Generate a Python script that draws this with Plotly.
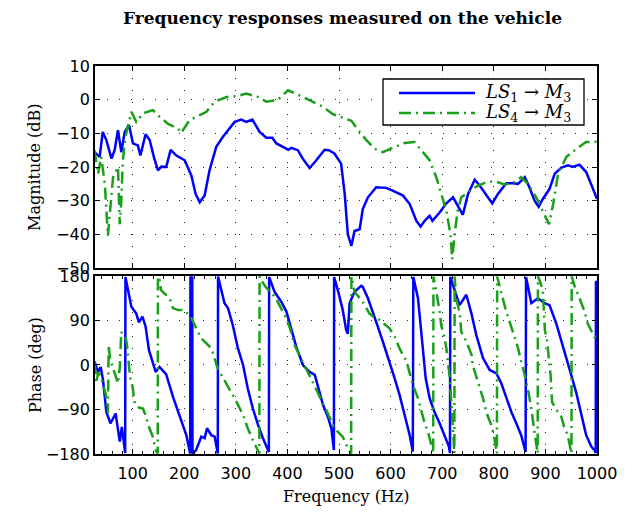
import plotly.graph_objects as go

# ---------------- magnitude, LS1 -> M3 ----------------
f_mag_ls1 = [26, 36, 42, 49, 59, 65, 71.5, 78, 84.5, 93, 100.6, 110, 115, 125, 133, 141,
             149, 155.6, 165, 173.6, 184.7, 200.8, 213.7, 222, 230, 239.5, 249, 262, 275,
             284.7, 297.7, 310.6, 320, 332, 346, 359, 370.7, 378.5, 391, 402, 407.5, 420,
             430, 443, 456, 472, 480, 491, 504, 511, 517, 524, 530, 540, 546, 556, 572,
             591.5, 604, 624, 637, 650, 658, 666, 675.6, 681, 695, 708, 721, 730.5, 740,
             750, 763, 772.5, 785.5, 797, 808, 824, 837, 847, 860, 869, 879, 887, 895, 908,
             918, 931, 944, 953, 966, 979, 987, 1000]
mag_ls1 = [-15.6, -17, -9.6, -12, -17.5, -15, -9.1, -15.6, -9.6, -7.6, -13, -13.6, -16.6,
           -10.3, -12, -17, -21, -19.9, -20, -14.9, -16.6, -18, -22.5, -28, -30.5, -28.5,
           -21, -14, -11, -9, -6.6, -5.9, -6.6, -5.9, -9.6, -11.3, -11.3, -13, -13.9, -14.9,
           -14.3, -15, -17.6, -20.3, -18, -14.9, -15, -16, -19, -28, -40, -43.4, -39, -38.5,
           -32.5, -29, -26, -26.2, -27, -28.5, -31, -36, -37.7, -36, -34.5, -36, -33.5,
           -30.8, -29, -31.5, -34.2, -28, -23.8, -25.5, -28.5, -30.8, -28, -24.8, -24.8,
           -25, -23, -26, -30, -31.8, -29.5, -26.5, -22, -20.2, -19.5, -20, -19.3, -21.5,
           -24.5, -29.5]

# ---------------- magnitude, LS4 -> M3 ----------------
f_mag_ls4 = [26, 33, 39, 46, 52, 57, 62, 71.5, 75, 78, 81, 86, 97.5, 107, 120, 139, 152,
             168, 188, 194, 210, 230, 243, 259, 282, 301, 320, 343, 359, 381, 401, 430, 449,
             469, 488, 507, 524, 540, 553, 569, 585, 604, 627, 646.5, 659.5, 675.6, 688.5,
             698, 708, 716, 719.5, 724, 730, 737, 750, 766, 785.5, 801.5, 821, 837, 853,
             866, 882, 895, 907, 915, 924.6, 940.8, 960, 979, 1000]
mag_ls4 = [-15, -22, -17, -25, -40.4, -32, -23, -20, -37, -30, -18, -11, -3.6, -6.6, -4.1,
           -3.1, -5.1, -7.1, -8.6, -9.9, -6.1, -4.6, -3.6, -0.6, 0.8, 1.0, 1.8, 0.8, -0.6,
           -0.1, 2.8, 0.8, -0.6, -2.1, -4.3, -5.3, -6.3, -9.6, -12, -14.6, -15.6, -14.3,
           -12.9, -12.6, -14.9, -18, -23, -28, -33, -40, -47.4, -40, -33, -29, -27.5,
           -25.8, -24.5, -24.2, -25.2, -24.8, -23, -25, -29, -33, -37, -31, -22, -17,
           -14.6, -12.6, -12.5]

# ---------------- wrapped phase, LS1 -> M3 ----------------
f_ph_ls1 = [26, 33, 38, 42.5, 49, 57, 67, 75, 79, 84.5, 85.5, 86, 91, 97.5, 107, 112, 119,
            125, 131.6, 139, 144.6, 152, 165, 178, 191, 204, 211.5, 212, 214, 215.5, 216,
            219, 223, 233, 239.5, 244, 252.5, 259, 265, 265.5, 272, 278, 284.7, 294, 304,
            314, 323, 333, 343, 352.5, 364, 364.5, 375, 388, 398, 407.5, 417, 430, 443, 453,
            459, 469, 478.5, 485, 490, 490.5, 498, 507, 514, 517, 520.5, 530, 543, 546, 556,
            565.7, 575, 585, 598, 607.8, 617.4, 627, 637, 643, 644, 653, 659.5, 668, 675.6,
            685, 695, 704.6, 713, 715, 715.7, 724, 733.7, 746.7, 756.4, 766, 779, 792, 805,
            814.5, 824, 834, 843.6, 853, 861.6, 862.5, 872.7, 885.5, 898.4, 908, 921, 930.8,
            940.5, 950, 960, 969.6, 979, 989, 995.7, 997.5, 998, 1000]
ph_ls1 = [7, -14, -4, -30, -95, -118, -98, -155, -125, -170, -178, 178, 152, 118, 104, 86,
          98, 78, 30, 7, -14, -4, -19, -64, -101, -142, -179, 179, 168, 179, -179, -175,
          -172, -145, -148, -128, -142, -145, -179, 179, 148, 125, 115, 81, 34, 0, -47, -88,
          -121, -148, -176, 178, 148, 128, 108, 74, 37, 0, -14, -20, -41, -81, -105, -128,
          -172, 178, 150, 112, 70, 63, 125, 148, 160, 158, 135, 108, 78, 47, 7, -27, -61,
          -101, -142, -175, 178, 135, 68, -27, -67, -95, -118, -142, -165, -178, 178, 152,
          121, 142, 105, 61, 14, -10, -17, -37, -67, -95, -118, -142, -176, 178, 125, 135,
          125, 121, 84, 47, 14, -20, -57, -98, -142, -165, -173, -178, 170, 165]

# ---------------- wrapped phase, LS4 -> M3 ----------------
f_ph_ls4 = [26, 29.6, 33, 38, 42.5, 47.7, 52, 53.5, 56, 62, 67, 71.5, 75, 78, 81, 86.4, 89,
            92, 95, 100, 104, 112, 120, 126, 130, 139, 144.6, 148.5, 149,
            152, 155, 160, 171.7, 178, 188, 200.8, 213.7, 223.4, 233, 252.5, 259, 265, 272,
            281.6, 291, 301, 314, 323, 333, 343, 345.5, 346,
            350, 360, 370, 381, 398, 405, 414, 428, 435, 446, 459, 469, 478, 491, 507, 517,
            523.5, 524,
            527, 530, 546, 559, 566, 575, 598, 608, 617, 631, 637, 643, 653, 659, 666, 674,
            680, 682.5, 683,
            686, 690, 695, 698, 704, 708, 711, 714, 718, 722, 723.5, 724, 727, 734, 737, 747,
            757, 759, 767, 776, 779, 786, 795, 800, 805, 806, 806.5,
            809, 817, 824, 837, 847, 853, 860, 867, 873, 878, 882, 885, 885.5,
            890, 895, 899, 903, 907, 910, 913, 921, 931, 937, 943, 950, 950.5, 951,
            957, 966, 976, 982, 995, 1000]
ph_ls4 = [6, -37, -15, -22, -40, -58, -97, 40, 13, -5, -20, -37, -5, 67, 62, 57, 40,
          5, -25, -45, -78, -86, -88, -105, -121, -145, -172, -179, 179,
          172, 152, 146, 135, 115, 111, 111, 94.5, 74, 54, 34, 10, -7, -20,
          -37, -54, -74, -101, -128, -152, -175, -179, 179,
          170, 155, 145, 128, 94, 74, 40, 10, -5, -27, -54, -75, -97, -128, -145, -168,
          -179, 179,
          160, 148, 128, 104, 98, 94, 74, 57, 34, 7, -17, -40, -67, -91, -118, -141,
          -165, -179, 179,
          165, 140, 108, 80, 57, 34, 7, -20, -80, -150, -179, 179, 135, 104, 67, 47,
          20, 0, -27, -54, -67, -97, -121, -141, -172, -179, 179,
          168, 135, 108, 67, 34, 7, -20, -54, -90, -130, -160, -179, 179,
          168, 150, 70, 50, 15, -20, -75, -90, -105, -128, -141, -175, -179, 179,
          158, 135, 108, 84, 57, 50]

freq_ticks = [100, 200, 300, 400, 500, 600, 700, 800, 900, 1000]
mag_ticks = [10, 0, -10, -20, -30, -40, -50]
phase_ticks = [180, 90, 0, -90, -180]

legend_labels = ["<i>LS</i><sub>1</sub> \u2192 <i>M</i><sub>3</sub>",
                 "<i>LS</i><sub>4</sub> \u2192 <i>M</i><sub>3</sub>"]

BLUE = "#0000ff"
GREEN = "#1a9f1a"
DASHDOT = "12px,5px,2px,5px"
TICK_FONT = dict(family="DejaVu Sans", size=16, color="black")
SERIF = "DejaVu Serif"

fig = go.Figure()
fig.add_trace(go.Scatter(
    x=f_mag_ls1, y=mag_ls1, xaxis="x2", yaxis="y2", mode="lines",
    line=dict(color=BLUE, width=2.5), name=legend_labels[0], showlegend=False))
fig.add_trace(go.Scatter(
    x=f_mag_ls4, y=mag_ls4, xaxis="x2", yaxis="y2", mode="lines",
    line=dict(color=GREEN, width=2.5, dash=DASHDOT), name=legend_labels[1],
    showlegend=False))
fig.add_trace(go.Scatter(
    x=f_ph_ls1, y=ph_ls1, xaxis="x", yaxis="y", mode="lines",
    line=dict(color=BLUE, width=2.5), showlegend=False))
fig.add_trace(go.Scatter(
    x=f_ph_ls4, y=ph_ls4, xaxis="x", yaxis="y", mode="lines",
    line=dict(color=GREEN, width=2.5, dash=DASHDOT), showlegend=False))

common = dict(
    showline=True, linecolor="black", linewidth=1.8, mirror="ticks",
    ticks="inside", ticklen=5, tickcolor="black", tickwidth=1,
    showgrid=True, gridcolor="#222222", gridwidth=1, griddash="1px,11px",
    zeroline=False, tickfont=TICK_FONT,
)

# legend box in the upper panel (paper coordinates)
LEG_X0, LEG_X1, LEG_Y0, LEG_Y1 = 0.5737, 0.9741, 0.8479, 0.9665
ROW_Y = [0.9304, 0.8789]
SAMPLE_X0, SAMPLE_X1, LABEL_X = 0.6056, 0.757, 0.7729

shapes = [dict(type="rect", xref="paper", yref="paper", x0=LEG_X0, x1=LEG_X1,
               y0=LEG_Y0, y1=LEG_Y1, fillcolor="white",
               line=dict(color="black", width=1.3), layer="above")]
styles = [dict(color=BLUE, width=2.5), dict(color=GREEN, width=2.5, dash=DASHDOT)]
for ry, st in zip(ROW_Y, styles):
    shapes.append(dict(type="line", xref="paper", yref="paper", x0=SAMPLE_X0,
                       x1=SAMPLE_X1, y0=ry, y1=ry, line=st, layer="above"))

annotations = [
    dict(text="<b>Frequency responses measured on the vehicle</b>",
         x=0.494, y=1.1237, xref="paper", yref="paper", showarrow=False,
         xanchor="center", yanchor="middle",
         font=dict(family=SERIF, size=17, color="black")),
    dict(text="Magnitude (dB)", x=-0.1195, y=0.7397, xref="paper", yref="paper",
         showarrow=False, textangle=-90, xanchor="center", yanchor="middle",
         font=dict(family=SERIF, size=16, color="black")),
    dict(text="Phase (deg)", x=-0.1175, y=0.2294, xref="paper", yref="paper",
         showarrow=False, textangle=-90, xanchor="center", yanchor="middle",
         font=dict(family=SERIF, size=16, color="black")),
    dict(text="Frequency (Hz)", x=0.5, y=-0.1108, xref="paper", yref="paper",
         showarrow=False, xanchor="center", yanchor="middle",
         font=dict(family=SERIF, size=16, color="black")),
]
for ry, lab in zip(ROW_Y, legend_labels):
    annotations.append(dict(text=lab, x=LABEL_X, y=ry, xref="paper", yref="paper",
                            showarrow=False, xanchor="left", yanchor="middle",
                            font=dict(family=SERIF, size=18, color="black")))

fig.update_layout(
    width=636, height=512,
    margin=dict(l=95, r=39, t=66, b=58),
    paper_bgcolor="white", plot_bgcolor="white",
    showlegend=False,
    xaxis=dict(domain=[0, 1], anchor="y", range=[27, 1000], tickvals=freq_ticks,
               ticklabelstandoff=4,
               minor=dict(ticks="inside", ticklen=3, dtick=20, tick0=0,
                          tickcolor="black", showgrid=False),
               **common),
    xaxis2=dict(domain=[0, 1], anchor="y2", range=[27, 1000], tickvals=freq_ticks,
                matches="x", showticklabels=False, **common),
    yaxis=dict(domain=[0, 0.4588], anchor="x", range=[-180, 180], tickvals=phase_ticks,
               **common),
    yaxis2=dict(domain=[0.4794, 1], anchor="x2", range=[-50, 10], tickvals=mag_ticks,
                **common),
    shapes=shapes,
    annotations=annotations,
)

fig.write_html("out.html")
